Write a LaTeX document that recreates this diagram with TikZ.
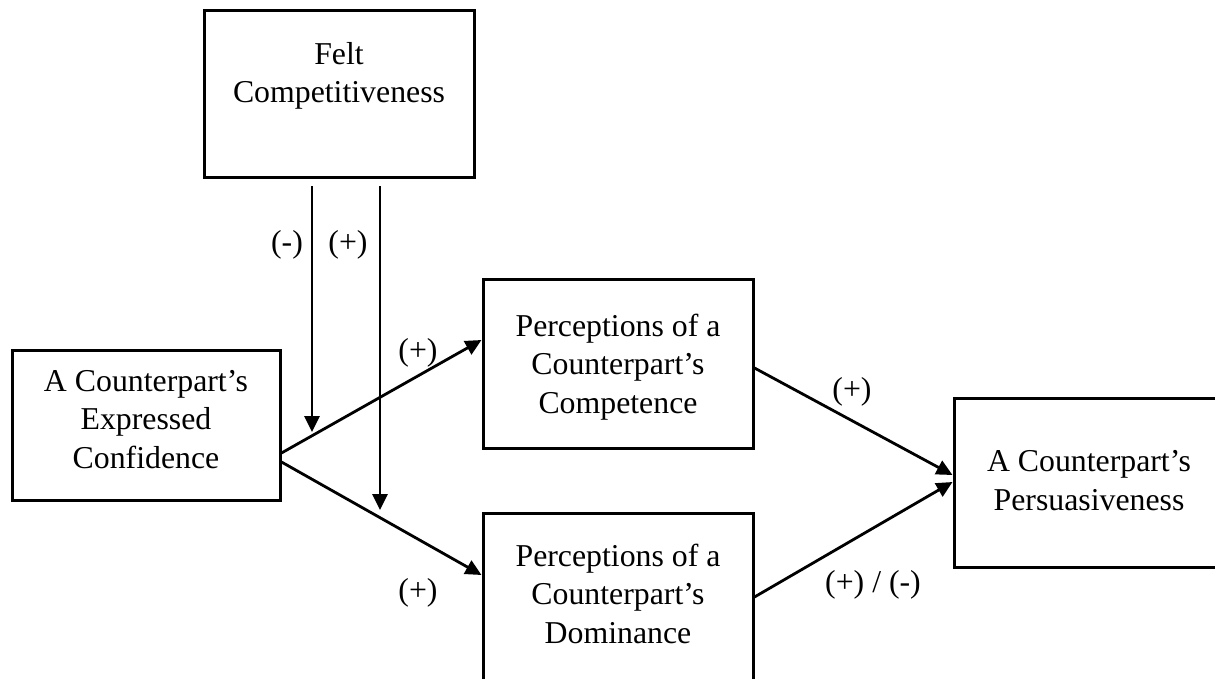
\documentclass[tikz,border=0pt]{standalone}
\usepackage{fontspec}
\setmainfont{Liberation Serif}
\usetikzlibrary{arrows.meta,calc}
\begin{document}
\begin{tikzpicture}[x=0.5pt,y=-0.5pt,
  box/.style={draw,line width=1.5pt,minimum width=135pt,minimum height=84pt,inner sep=0pt},
  txt/.style={align=center,font=\fontsize{15.9}{19.25}\selectfont,inner sep=0pt,anchor=base},
  lab/.style={font=\fontsize{15.9}{19.25}\selectfont,inner sep=0pt},
  arr/.style={line width=1.4pt,-{Triangle[length=8pt,width=7.5pt]}}]
\clip (0,0) rectangle (1215,679);
% boxes
\node[box,minimum height=83.5pt] (felt) at (339,94.5) {};
\node[box,minimum width=134pt,minimum height=75pt] (conf) at (146,425) {};
\node[box] (comp) at (618,364) {};
\node[box] (dom) at (618,597) {};
\node[box,minimum height=84.5pt] (pers) at (1089,482.5) {};
% texts
\node[txt] (feltT) at (339,103) {Felt\\Competitiveness};
\node[txt] (confT) at (146,468) {A Counterpart’s\\Expressed\\Confidence};
\node[txt] (compT) at (618,413) {Perceptions of a\\Counterpart’s\\Competence};
\node[txt] (domT) at (618,643) {Perceptions of a\\Counterpart’s\\Dominance};
\node[txt] (persT) at (1089,510) {A Counterpart’s\\Persuasiveness};
% connectors
\coordinate (m1) at (312,432);
\coordinate (m2) at (380,510);
\draw[arr] ([yshift=-3.5pt]felt.south -| m1) -- (m1);
\draw[arr] ([yshift=-3.5pt]felt.south -| m2) -- (m2);
\draw[arr] ([yshift=-14pt]conf.east) -- ([yshift=12pt]comp.west);
\draw[arr] ([yshift=-18.5pt]conf.east) -- ([yshift=11pt]dom.west);
\draw[arr] ([yshift=-2pt]comp.east) -- ([yshift=3.75pt]pers.west);
\draw[arr] (dom.east) -- ([yshift=0.25pt]pers.west);
% labels
\node[lab] (l1) at (287,245) {(-)};
\node[lab] (l2) at (348,245) {(+)};
\node[lab] (l3) at (418,353) {(+)};
\node[lab] (l4) at (418,593) {(+)};
\node[lab] (l5) at (852,392) {(+)};
\node[lab] (l6) at (873,585) {(+) / (-)};
\end{tikzpicture}
\end{document}
